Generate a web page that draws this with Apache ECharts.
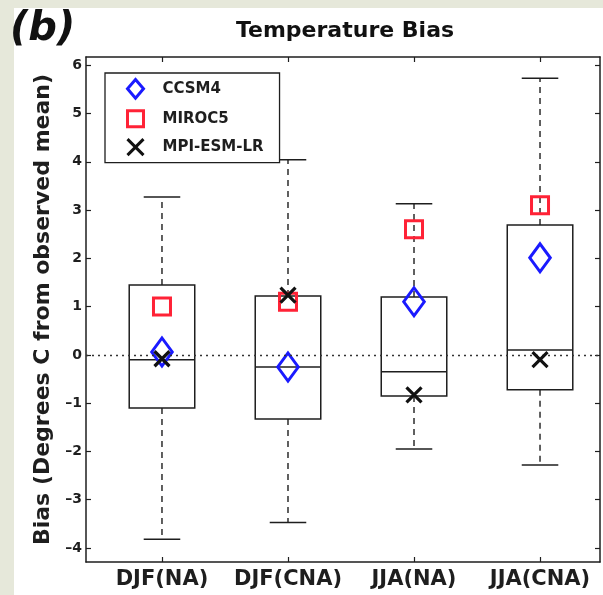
<!DOCTYPE html>
<html>
<head>
<meta charset="utf-8">
<script src="https://cdn.jsdelivr.net/npm/echarts@6/dist/echarts.min.js"></script>
<style>
  html, body { margin: 0; padding: 0; background: #e6e8da; }
  #panel { position: absolute; left: 14px; top: 8px; right: 0; bottom: 0; background: #ffffff; }
  #chart { position: absolute; left: 0; top: 0; width: 603px; height: 595px; }
</style>
</head>
<body>
<div id="panel"></div>
<div id="chart"></div>
<script>
// Regions / seasons on the x axis
const categories = ['DJF(NA)', 'DJF(CNA)', 'JJA(NA)', 'JJA(CNA)'];

// Box statistics of the model ensemble (degrees C)
const whiskerLow  = [-3.82, -3.47, -1.95, -2.28];
const quartile1   = [-1.10, -1.33, -0.85, -0.72];
const medianVal   = [-0.10, -0.25, -0.35,  0.10];
const quartile3   = [ 1.45,  1.22,  1.20,  2.69];
const whiskerHigh = [ 3.27,  4.04,  3.13,  5.73];

// Individual models
const ccsm4  = [ 0.06, -0.25,  1.10,  2.01];
const miroc5 = [ 1.00,  1.10,  2.60,  3.10];
const mpiEsm = [-0.08,  1.24, -0.83, -0.10];

// Axis ticks
const yTicks = [-4, -3, -2, -1, 0, 1, 2, 3, 4, 5, 6];
const xTicks = [1, 2, 3, 4];

const FONT = 'DejaVu Sans';
const INK = '#1e1e1e';

const boxData = categories.map((c, i) => [i + 1, whiskerLow[i], quartile1[i], medianVal[i], quartile3[i], whiskerHigh[i]]);

function renderBox(params, api) {
  const x = api.value(0);
  const lo = api.value(1), q1 = api.value(2), med = api.value(3), q3 = api.value(4), hi = api.value(5);
  const halfBox = 0.26, halfCap = 0.145;
  const tl = api.coord([x - halfBox, q3]);
  const br = api.coord([x + halfBox, q1]);
  const m1 = api.coord([x - halfBox, med]);
  const m2 = api.coord([x + halfBox, med]);
  const cTop = api.coord([x, q3]), cHi = api.coord([x, hi]);
  const cBot = api.coord([x, q1]), cLo = api.coord([x, lo]);
  const capHiL = api.coord([x - halfCap, hi]), capHiR = api.coord([x + halfCap, hi]);
  const capLoL = api.coord([x - halfCap, lo]), capLoR = api.coord([x + halfCap, lo]);
  const solid = { stroke: INK, lineWidth: 1.5, fill: null };
  const dashed = { stroke: INK, lineWidth: 1.4, lineDash: [6, 5], fill: null };
  return {
    type: 'group',
    children: [
      { type: 'line', shape: { x1: cTop[0], y1: cTop[1], x2: cHi[0], y2: cHi[1] }, style: dashed },
      { type: 'line', shape: { x1: cBot[0], y1: cBot[1], x2: cLo[0], y2: cLo[1] }, style: dashed },
      { type: 'line', shape: { x1: capHiL[0], y1: capHiL[1], x2: capHiR[0], y2: capHiR[1] }, style: solid },
      { type: 'line', shape: { x1: capLoL[0], y1: capLoL[1], x2: capLoR[0], y2: capLoR[1] }, style: solid },
      { type: 'rect', shape: { x: tl[0], y: tl[1], width: br[0] - tl[0], height: br[1] - tl[1] }, style: solid },
      { type: 'line', shape: { x1: m1[0], y1: m1[1], x2: m2[0], y2: m2[1] }, style: solid }
    ]
  };
}

const chart = echarts.init(document.getElementById('chart'), null, { renderer: 'canvas' });

const axisLineStyle = { color: INK, width: 1.5 };

chart.setOption({
  animation: false,
  backgroundColor: 'transparent',
  grid: { left: 86, right: 3, top: 57, bottom: 33, containLabel: false },
  graphic: [
    { type: 'text', x: 10, y: 30, style: { text: '(b)', font: 'italic bold 40px "DejaVu Sans"', fill: '#111', align: 'left', verticalAlign: 'middle' } },
    { type: 'text', x: 345, y: 31, style: { text: 'Temperature Bias', font: 'bold 22px "DejaVu Sans"', fill: '#111', align: 'center', verticalAlign: 'middle' } }
  ],
  legend: {
    orient: 'vertical',
    left: 105,
    top: 73,
    padding: [4, 16, 5, 20],
    itemGap: 7.5,
    itemWidth: 16,
    itemHeight: 20,
    borderColor: INK,
    borderWidth: 1.3,
    backgroundColor: '#ffffff',
    itemStyle: { borderWidth: 3 },
    textStyle: { fontFamily: FONT, fontWeight: 'bold', fontSize: 15, color: INK, padding: [0, 0, 0, 14] },
    data: ['CCSM4', 'MIROC5', 'MPI-ESM-LR']
  },
  xAxis: [
    {
      type: 'value', min: 0.397, max: 4.476, position: 'bottom',
      axisLine: { show: true, onZero: false, lineStyle: axisLineStyle },
      axisTick: { show: true, inside: true, length: 5, customValues: xTicks, lineStyle: { color: INK, width: 1.2 } },
      axisLabel: { customValues: xTicks, formatter: v => categories[Math.round(v) - 1] || '', fontFamily: FONT, fontWeight: 'bold', fontSize: 21, color: INK, margin: 7 },
      splitLine: { show: false }
    },
    {
      type: 'value', min: 0.397, max: 4.476, position: 'top',
      axisLine: { show: true, onZero: false, lineStyle: axisLineStyle },
      axisTick: { show: true, inside: true, length: 5, customValues: xTicks, lineStyle: { color: INK, width: 1.2 } },
      axisLabel: { show: false },
      splitLine: { show: false }
    }
  ],
  yAxis: [
    {
      type: 'value', min: -4.29, max: 6.17, position: 'left',
      name: 'Bias (Degrees C from observed mean)',
      nameLocation: 'middle', nameGap: 29,
      nameTextStyle: { fontFamily: FONT, fontWeight: 'bold', fontSize: 22, color: INK },
      axisLine: { show: true, onZero: false, lineStyle: axisLineStyle },
      axisTick: { show: true, inside: true, length: 5, customValues: yTicks, lineStyle: { color: INK, width: 1.2 } },
      axisLabel: { customValues: yTicks, formatter: v => (v < 0 ? '\u2013' + Math.abs(v) : String(v)), fontFamily: FONT, fontWeight: 'bold', fontSize: 14, color: INK, margin: 4 },
      splitLine: { show: false }
    },
    {
      type: 'value', min: -4.29, max: 6.17, position: 'right',
      axisLine: { show: true, onZero: false, lineStyle: axisLineStyle },
      axisTick: { show: true, inside: true, length: 5, customValues: yTicks, lineStyle: { color: INK, width: 1.2 } },
      axisLabel: { show: false },
      splitLine: { show: false }
    }
  ],
  series: [
    {
      name: 'ensemble',
      type: 'custom',
      renderItem: renderBox,
      data: boxData,
      encode: { x: 0, y: [1, 2, 3, 4, 5] },
      z: 2,
      silent: true
    },
    {
      name: 'CCSM4',
      type: 'scatter',
      symbol: 'path://M6,0L12,7L6,14L0,7Z',
      symbolKeepAspect: true,
      symbolSize: [24, 28],
      itemStyle: { color: 'none', borderColor: '#1a1aff', borderWidth: 3, opacity: 1 },
      data: ccsm4.map((v, i) => [i + 1, v]),
      z: 3,
      markLine: {
        silent: true,
        symbol: ['none', 'none'],
        label: { show: false },
        lineStyle: { type: [2, 4], color: '#333', width: 1.4 },
        data: [{ yAxis: 0 }]
      }
    },
    {
      name: 'MIROC5',
      type: 'scatter',
      symbol: 'path://M0,0H10V10H0Z',
      symbolKeepAspect: true,
      symbolSize: 17,
      itemStyle: { color: 'none', borderColor: '#ff2236', borderWidth: 3, opacity: 1 },
      data: miroc5.map((v, i) => [i + 1, v]),
      z: 4
    },
    {
      name: 'MPI-ESM-LR',
      type: 'scatter',
      symbol: 'path://M0,0L10,10M10,0L0,10',
      symbolKeepAspect: true,
      symbolSize: 15,
      itemStyle: { color: 'none', borderColor: '#111', borderWidth: 3.2, opacity: 1 },
      data: mpiEsm.map((v, i) => [i + 1, v]),
      z: 5
    }
  ]
});
</script>
</body>
</html>
